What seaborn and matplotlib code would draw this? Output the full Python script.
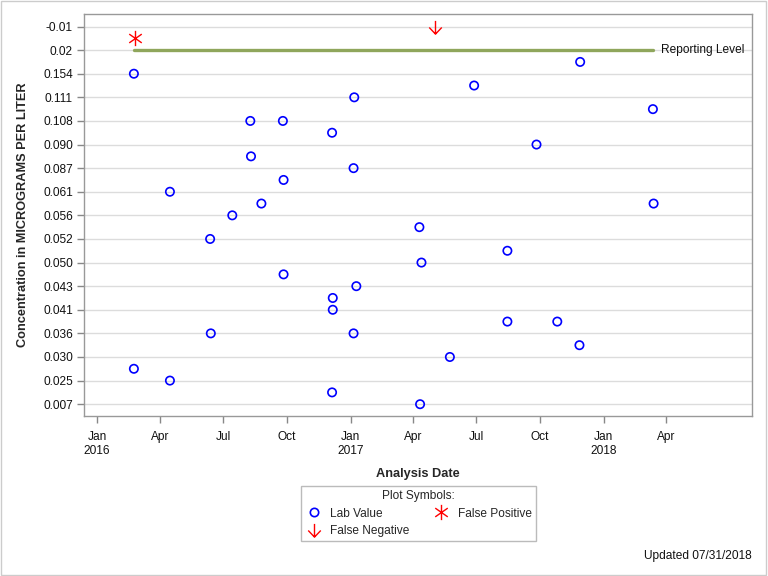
import matplotlib
matplotlib.use("Agg")
import matplotlib.pyplot as plt
import seaborn as sns
import pandas as pd
import numpy as np
from matplotlib.path import Path
from matplotlib.lines import Line2D
from matplotlib.patches import Rectangle

# ---- data ----
y_tick_labels = ["0.007", "0.025", "0.030", "0.036", "0.041", "0.043", "0.050",
                 "0.052", "0.056", "0.061", "0.087", "0.090", "0.108", "0.111",
                 "0.154", "0.02", "-0.01"]  # bottom to top

lab_dates = ["2016-02-23", "2016-02-23", "2016-04-15", "2016-04-15", "2016-06-12",
             "2016-06-13", "2016-07-14", "2016-08-09", "2016-08-10", "2016-08-25",
             "2016-09-25", "2016-09-26", "2016-09-26", "2016-12-05", "2016-12-06",
             "2016-12-06", "2016-12-05", "2017-01-06", "2017-01-05", "2017-01-09",
             "2017-01-05", "2017-04-10", "2017-04-13", "2017-04-11", "2017-05-24",
             "2017-06-28", "2017-08-15", "2017-08-15", "2017-09-26", "2017-10-26",
             "2017-11-27", "2017-11-28", "2018-03-13", "2018-03-14"]
lab_levels = [14, 1.5, 9, 1, 7, 3, 8, 12, 10.5, 8.5,
              12, 9.5, 5.5, 11.5, 4.5, 4, 0.5, 13, 10, 5,
              3, 7.5, 6, 0, 2, 13.5, 6.5, 3.5, 11, 3.5,
              2.5, 14.5, 12.5, 8.5]

fp_dates = ["2016-02-24"]
fp_levels = [15.5]
fn_dates = ["2017-05-03"]
fn_levels = [16]

rl_dates = ["2016-02-23", "2018-03-13"]
rl_levels = [15, 15]

x_tick_dates = ["2016-01-01", "2016-04-01", "2016-07-01", "2016-10-01",
                "2017-01-01", "2017-04-01", "2017-07-01", "2017-10-01",
                "2018-01-01", "2018-04-01"]
x_tick_labels = ["Jan\n2016", "Apr", "Jul", "Oct", "Jan\n2017", "Apr", "Jul",
                 "Oct", "Jan\n2018", "Apr"]

# ---- style ----
sns.set_theme(style="white")
plt.rcParams['font.family'] = ['Liberation Sans', 'DejaVu Sans']
FS = 8.6

fig = plt.figure(figsize=(7.68, 5.76), dpi=100)
ax = fig.add_axes([84/768, 1-416/576, (752-84)/768, (416-14)/576])

lab = pd.DataFrame({"date": pd.to_datetime(lab_dates), "level": lab_levels})
fp = pd.DataFrame({"date": pd.to_datetime(fp_dates), "level": fp_levels})
fn = pd.DataFrame({"date": pd.to_datetime(fn_dates), "level": fn_levels})
rl = pd.DataFrame({"date": pd.to_datetime(rl_dates), "level": rl_levels})

# grid lines
for i in range(len(y_tick_labels)):
    ax.axhline(i, color="#dcdcdc", lw=1.0, zorder=0)

sns.lineplot(data=rl, x="date", y="level", ax=ax, color="#8fa65c", lw=2.4,
             zorder=2, legend=False)

sns.scatterplot(data=lab, x="date", y="level", ax=ax, marker="o",
                s=36, facecolor="none", edgecolor="#0000ff", linewidth=1.2,
                zorder=3, legend=False)

a = np.deg2rad(55)
sx, sy = np.sin(a), np.cos(a)
star = Path([(0, 1), (0, -1), (-sx, sy), (sx, -sy), (sx, sy), (-sx, -sy)],
            [Path.MOVETO, Path.LINETO, Path.MOVETO, Path.LINETO, Path.MOVETO, Path.LINETO])
ax.plot(fp["date"], fp["level"], linestyle="none", marker=star,
        markersize=11, markerfacecolor="none", markeredgecolor="#ff0000",
        markeredgewidth=1.0, zorder=3)

arrow_path = Path([(0, 1), (0, -1), (-0.95, 0.0), (0, -1), (0.95, 0.0)],
                  [Path.MOVETO, Path.LINETO, Path.MOVETO, Path.LINETO, Path.LINETO])
ax.plot(fn["date"], fn["level"], linestyle="none", marker=arrow_path,
        markersize=9.5, markerfacecolor="none", markeredgecolor="#ff0000",
        markeredgewidth=1.0, zorder=3)

ax.text(rl["date"].iloc[-1] + pd.Timedelta(days=12), rl["level"].iloc[-1],
        "Reporting Level", va="center", ha="left", fontsize=FS, color="#111111")

ax.set_ylim(-0.5, 16.53)
ax.set_xlim(pd.Timestamp("2015-12-13"), pd.Timestamp("2018-08-03"))

ax.set_yticks(range(len(y_tick_labels)))
ax.set_yticklabels(y_tick_labels)
ax.set_xticks(pd.to_datetime(x_tick_dates))
ax.set_xticklabels(x_tick_labels)

ax.tick_params(axis="both", which="major", direction="out", length=5, width=1,
               color="#888888", labelsize=FS, labelcolor="#111111", pad=3,
               left=True, bottom=True)
ax.tick_params(axis="x", pad=6)
for sp in ax.spines.values():
    sp.set_color("#999999")
    sp.set_linewidth(1.0)

ax.set_xlabel("Analysis Date", fontsize=9.2, fontweight="bold", labelpad=8)
ax.set_ylabel("Concentration in MICROGRAMS PER LITER", fontsize=9.2,
              fontweight="bold", labelpad=10)

handles = [
    Line2D([], [], linestyle="none", marker="o", markersize=6,
           markerfacecolor="none", markeredgecolor="#0000ff", markeredgewidth=1.2),
    Line2D([], [], linestyle="none", marker=arrow_path, markersize=9.5,
           markerfacecolor="none", markeredgecolor="#ff0000", markeredgewidth=1.0),
    Line2D([], [], linestyle="none", marker=star, markersize=11,
           markerfacecolor="none", markeredgecolor="#ff0000", markeredgewidth=1.0),
]
labels = ["Lab Value", "False Negative", "False Positive"]
leg = fig.legend(handles, labels, title="Plot Symbols:", ncol=2,
                 loc="upper center", bbox_to_anchor=(418.5/768, 1-486/576),
                 fontsize=FS, title_fontsize=FS, frameon=True, fancybox=False,
                 edgecolor="#aaaaaa", borderpad=0.35, labelspacing=0.45,
                 handletextpad=0.6, columnspacing=1.9, handlelength=1.5,
                 borderaxespad=0)
leg.get_frame().set_linewidth(1.0)

fig.text(752/768, 1-556/576, "Updated 07/31/2018", ha="right", va="center",
         fontsize=FS, color="#111111")

fig.patches.append(Rectangle((0.001, 0.001), 0.997, 0.997, transform=fig.transFigure,
                             fill=False, edgecolor="#cccccc", lw=1.0))

fig.savefig("out.png", dpi=100)
